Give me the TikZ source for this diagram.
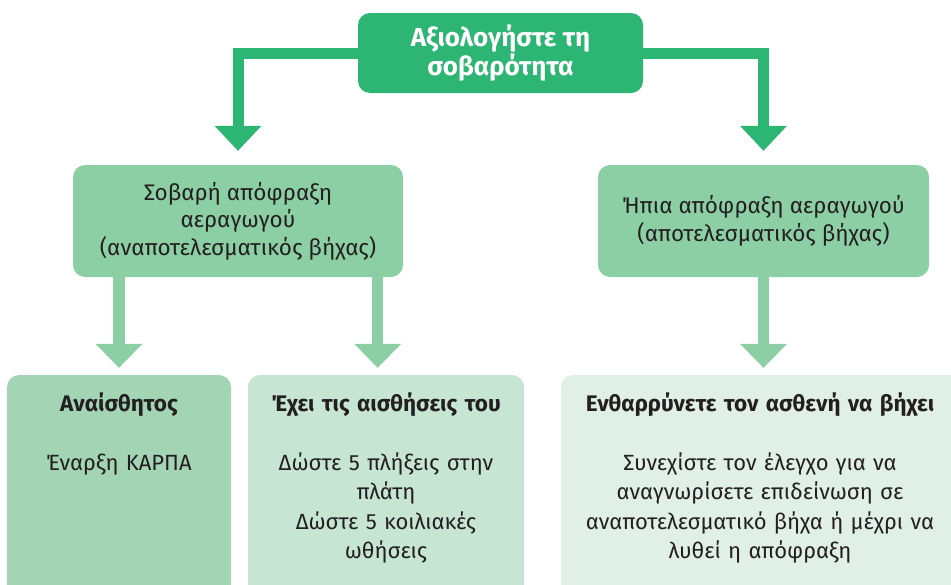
\documentclass[tikz,border=0pt]{standalone}
\usepackage{fontspec}
\setmainfont{Fira Sans}
\usetikzlibrary{arrows.meta}

\definecolor{assessgreen}{RGB}{44,181,115}
\definecolor{midgreen}{RGB}{141,207,165}
\definecolor{unconsc}{RGB}{163,213,181}
\definecolor{consc}{RGB}{198,229,210}
\definecolor{mildgreen}{RGB}{224,240,230}
\definecolor{ink}{RGB}{35,31,32}

\tikzset{
  panel/.style={rounded corners=12pt, inner sep=0pt, draw=none},
  topbox/.style={panel, fill=assessgreen, text=white, align=center,
    font=\fontsize{26}{27.5}\selectfont\bfseries},
  midbox/.style={panel, fill=midgreen, text=ink, align=center,
    font=\fontsize{22.5}{27.5}\selectfont},
  lowbox/.style={panel},
  lowtext/.style={anchor=base, inner sep=0pt, text=ink, align=center,
    text width=#1, font=\fontsize{22}{29.5}\selectfont},
  toplink/.style={draw=assessgreen, line width=11pt,
    -{Triangle[width=47pt,length=25pt,line width=0pt]}, shorten >=14pt},
  midlink/.style={draw=midgreen, line width=11.5pt,
    -{Triangle[width=47pt,length=24pt,line width=0pt]}, shorten >=7pt},
}

\begin{document}
\begin{tikzpicture}[x=1pt,y=-1pt]
\useasboundingbox (0,0) rectangle (951,584);

% decision boxes
\node[topbox, minimum width=285pt, minimum height=80pt] (assess) at (500.5,53)
  {Αξιολογήστε τη\\σοβαρότητα};
\node[midbox, minimum width=330pt, minimum height=112pt] (severe) at (238,221)
  {Σοβαρή απόφραξη\\αεραγωγού\\(αναποτελεσματικός βήχας)};
\node[midbox, minimum width=331pt, minimum height=112pt] (mild) at (763.5,221)
  {Ήπια απόφραξη αεραγωγού\\(αποτελεσματικός βήχας)};

% action boxes (running off the lower edge)
\node[lowbox, fill=unconsc, minimum width=224pt, minimum height=225pt] (uncon) at (119,487.5) {};
\node[lowbox, fill=consc, minimum width=276pt, minimum height=225pt] (con) at (386,487.5) {};
\node[lowbox, fill=mildgreen, minimum width=404pt, minimum height=225pt] (cough) at (763,487.5) {};

% action texts
\node[lowtext=220pt] (unconT) at (119,411) {\fontsize{22.5}{29.5}\selectfont\bfseries Αναίσθητος};
\node[lowtext=220pt] (unconB) at (119,470) {Έναρξη ΚΑΡΠΑ};
\node[lowtext=270pt] (conT) at (386,411) {\fontsize{22.5}{29.5}\selectfont\bfseries Έχει τις αισθήσεις του};
\node[lowtext=270pt] (conB) at (386,470)
  {Δώστε 5 πλήξεις στην\\πλάτη\\Δώστε 5 κοιλιακές\\ωθήσεις};
\node[lowtext=390pt] (coughT) at (760,411) {\fontsize{22.5}{29.5}\selectfont\bfseries Ενθαρρύνετε τον ασθενή να βήχει};
\node[lowtext=390pt] (coughB) at (760,470)
  {Συνεχίστε τον έλεγχο για να\\αναγνωρίσετε επιδείνωση σε\\αναποτελεσματικό βήχα ή μέχρι να\\λυθεί η απόφραξη};

% connectors
\draw[toplink] (assess.west) -| (severe.north);
\draw[toplink] (assess.east) -| (mild.north);

\coordinate (consplit) at ([xshift=-25.5pt]severe.south east);
\draw[midlink] (severe.south -| uncon.north) -- (uncon.north);
\draw[midlink] (consplit) -- (consplit |- con.north);
\draw[midlink] (mild.south) -- (mild.south |- cough.north);
\end{tikzpicture}
\end{document}
